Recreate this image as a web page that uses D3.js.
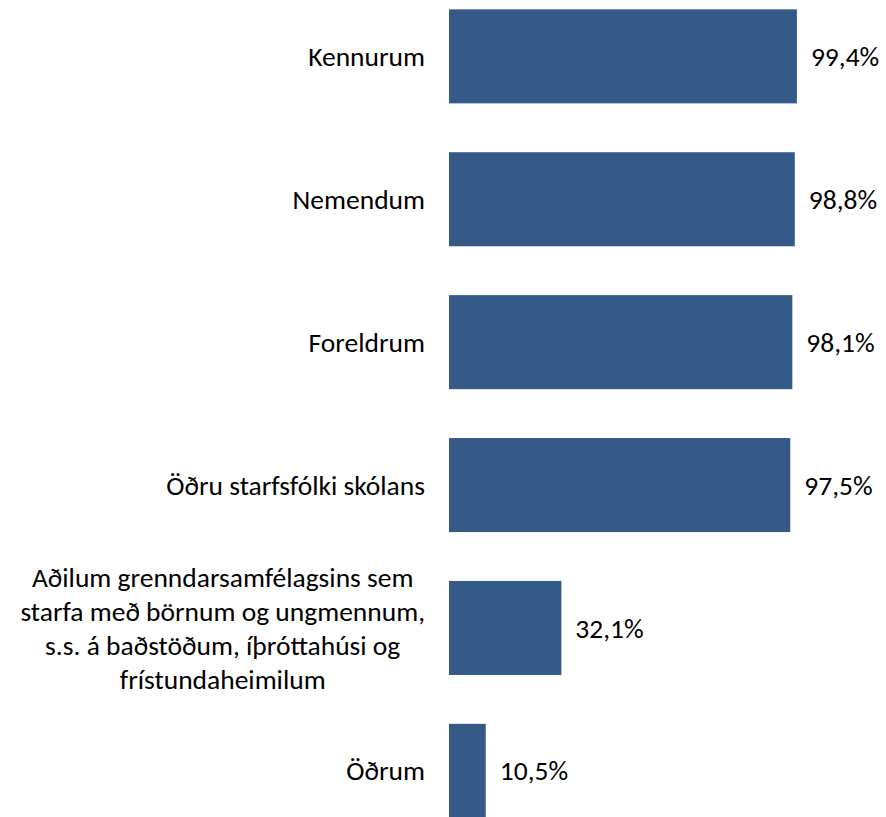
<!DOCTYPE html>
<html>
<head>
<meta charset="utf-8">
<script src="https://cdn.jsdelivr.net/npm/d3@7"></script>
<style>
  body { margin: 0; background: #fff; }
  svg { display: block; }
  text { font-family: Carlito, Lato, "Open Sans", sans-serif; fill: #000; }
</style>
</head>
<body>
<div id="chart"></div>
<script>
// categories (each inner array = wrapped label lines)
const categories = [
  ["Kennurum"],
  ["Nemendum"],
  ["Foreldrum"],
  ["Öðru starfsfólki skólans"],
  ["Aðilum grenndarsamfélagsins sem", "starfa með börnum og ungmennum,", "s.s. á baðstöðum, íþróttahúsi og", "frístundaheimilum"],
  ["Öðrum"]
]
const values = [99.4, 98.8, 98.1, 97.5, 32.1, 10.5]

const width = 886, height = 817
const fontSize = 27.5, lineHeight = 34
const barLeft = 449, labelRight = 425

var svg = d3.select("#chart").append("svg")
    .attr("width", width)
    .attr("height", height)

var x = d3.scaleLinear()
    .domain([0, 100])
    .range([barLeft, barLeft + 350])

var y = d3.scaleBand()
    .domain(d3.range(categories.length))
    .range([-15.1, 842.3])
    .paddingInner(0.342)
    .paddingOuter(0.171)

svg.selectAll("rect.bar")
    .data(values)
    .join("rect")
    .attr("class", "bar")
    .attr("x", x(0))
    .attr("y", (d, i) => y(i))
    .attr("width", d => x(d) - x(0))
    .attr("height", y.bandwidth())
    .attr("fill", "#355a87")

svg.selectAll("text.value")
    .data(values)
    .join("text")
    .attr("class", "value")
    .attr("x", d => x(d) + 14)
    .attr("y", (d, i) => y(i) + y.bandwidth() / 2)
    .attr("dy", "0.35em")
    .attr("font-size", fontSize)
    .text(d => d3.format(".1f")(d).replace(".", ",") + "%")

// category labels: lines centred on each other, block right-aligned to the bars
categories.forEach(function(lines, i) {

    var g = svg.append("g")

    var cy = y(i) + y.bandwidth() / 2

    var t = g.selectAll("text")
        .data(lines)
        .join("text")
        .attr("font-size", fontSize)
        .attr("text-anchor", "start")
        .attr("y", (d, j) => cy + (j - (lines.length - 1) / 2) * lineHeight)
        .attr("dy", "0.35em")
        .text(d => d)

    var widths = t.nodes().map(n => n.getComputedTextLength())

    var maxW = d3.max(widths)

    t.attr("x", (d, j) => labelRight - maxW / 2 - widths[j] / 2)
})
</script>
</body>
</html>
